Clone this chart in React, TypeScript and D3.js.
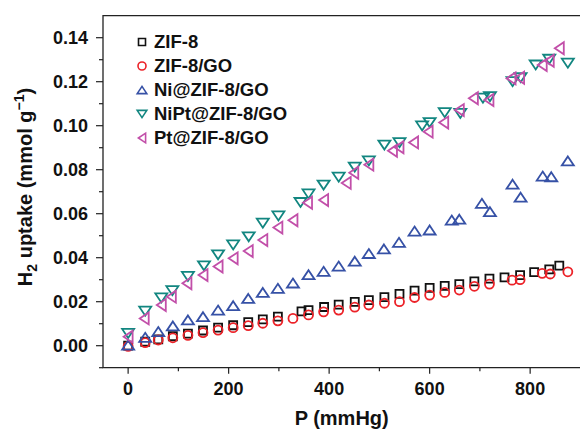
import React from "react";
import * as d3 from "d3";

const pZIF8 = [0, 34, 60, 89, 119, 149, 179, 209, 239, 268, 298, 345, 359, 390, 419, 451, 479, 510, 540, 570, 600, 630, 659, 689, 719, 749, 780, 808, 838, 858];
const vZIF8 = [0.0, 0.0018, 0.0029, 0.0043, 0.0055, 0.0069, 0.0082, 0.0093, 0.0107, 0.012, 0.0132, 0.0156, 0.0162, 0.0176, 0.0187, 0.0199, 0.0207, 0.0221, 0.0236, 0.025, 0.0263, 0.0272, 0.028, 0.0292, 0.0305, 0.0311, 0.0321, 0.0334, 0.0347, 0.0364];

const pZIF8GO = [0, 34, 60, 89, 119, 149, 179, 209, 239, 268, 298, 328, 359, 389, 419, 451, 479, 510, 540, 570, 600, 630, 659, 689, 719, 764, 780, 824, 840, 875];
const vZIF8GO = [-0.0003, 0.0014, 0.0026, 0.0036, 0.0047, 0.0059, 0.0071, 0.0082, 0.0091, 0.0102, 0.0113, 0.0124, 0.014, 0.0154, 0.0162, 0.0175, 0.0185, 0.0193, 0.02, 0.0219, 0.023, 0.0242, 0.0253, 0.027, 0.028, 0.0298, 0.03, 0.0329, 0.0326, 0.0336];

const pNi = [0, 34, 60, 89, 119, 149, 179, 209, 239, 268, 298, 328, 359, 389, 419, 451, 479, 509, 539, 570, 600, 644, 659, 704, 720, 765, 781, 825, 842, 875];
const vNi = [0.0003, 0.0038, 0.0064, 0.009, 0.0117, 0.0132, 0.0162, 0.0182, 0.0215, 0.0242, 0.0261, 0.0285, 0.0323, 0.0338, 0.0362, 0.0384, 0.0419, 0.044, 0.047, 0.0521, 0.0526, 0.0571, 0.0575, 0.0647, 0.0609, 0.0734, 0.0675, 0.0771, 0.0768, 0.084];

const pNiPt = [0, 34, 66, 88, 119, 151, 179, 209, 240, 268, 299, 343, 359, 389, 419, 451, 479, 510, 540, 585, 600, 630, 661, 706, 720, 765, 781, 811, 838, 875];
const vNiPt = [0.0056, 0.0157, 0.0217, 0.025, 0.0315, 0.0363, 0.0413, 0.0458, 0.0495, 0.0557, 0.059, 0.0651, 0.069, 0.073, 0.0766, 0.0812, 0.084, 0.0912, 0.0923, 0.0999, 0.1014, 0.1059, 0.1056, 0.1125, 0.1132, 0.12, 0.1218, 0.1276, 0.1302, 0.1284];

const pPt = [0, 32, 66, 86, 117, 149, 179, 209, 239, 268, 298, 328, 357, 389, 434, 449, 479, 526, 539, 568, 597, 628, 659, 687, 718, 762, 779, 824, 838, 858];
const vPt = [0.0041, 0.0124, 0.0185, 0.0223, 0.0284, 0.0321, 0.036, 0.0397, 0.043, 0.048, 0.0537, 0.057, 0.065, 0.0662, 0.074, 0.0786, 0.0823, 0.0886, 0.0902, 0.0924, 0.0973, 0.1014, 0.1071, 0.1125, 0.1117, 0.1215, 0.1218, 0.1276, 0.1295, 0.1352];

const seriesNames = ["ZIF-8", "ZIF-8/GO", "Ni@ZIF-8/GO", "NiPt@ZIF-8/GO", "Pt@ZIF-8/GO"];
const seriesColors = ["#111111", "#ec2228", "#3651a6", "#128680", "#c24fa9"];
const seriesShapes = ["square", "circle", "up", "down", "left"];

const xMajorTicks = [0, 200, 400, 600, 800];
const xMinorTicks = [100, 300, 500, 700];
const yMajorTicks = [0, 0.02, 0.04, 0.06, 0.08, 0.1, 0.12, 0.14];
const yMinorTicks = [-0.01, 0.01, 0.03, 0.05, 0.07, 0.09, 0.11, 0.13];

const W = 580;
const H = 433;
const L = 103;
const R = 580.4;
const T = 15.7;
const B = 367.7;
const FONT = "'Liberation Sans', Arial, Helvetica, sans-serif";

function markerPath(shape: string, s: number): string {
  const h = s / 2;
  if (shape === "square") {
    return `M${-h},${-h}H${h}V${h}H${-h}Z`;
  }
  if (shape === "up") {
    const w = s * 0.6, hh = s * 0.45;
    return `M0,${-hh}L${w},${hh}L${-w},${hh}Z`;
  }
  if (shape === "down") {
    const w = s * 0.6, hh = s * 0.45;
    return `M0,${hh}L${w},${-hh}L${-w},${-hh}Z`;
  }
  if (shape === "left") {
    const w = s * 0.45, hh = s * 0.6;
    return `M${-w},0L${w},${-hh}L${w},${hh}Z`;
  }
  return "";
}

function Marker({ shape, x, y, s, color, sw }: { shape: string; x: number; y: number; s: number; color: string; sw: number }) {
  if (shape === "circle") {
    return <circle cx={x} cy={y} r={s / 2} fill="none" stroke={color} strokeWidth={sw} />;
  }
  return (
    <path
      d={markerPath(shape, s)}
      transform={`translate(${x},${y})`}
      fill="none"
      stroke={color}
      strokeWidth={sw}
      strokeLinejoin="miter"
    />
  );
}

export default function App() {
  const x = d3.scaleLinear().domain([-50, 900]).range([L, R]);
  const y = d3.scaleLinear().domain([-0.01, 0.15]).range([B, T]);

  const allP = [pZIF8, pZIF8GO, pNi, pNiPt, pPt];
  const allV = [vZIF8, vZIF8GO, vNi, vNiPt, vPt];
  const sizes = [8, 9, 10, 10, 10];

  return (
    <svg width={W} height={H} style={{ position: "absolute", left: 0, top: 0, background: "#fff" }} fontFamily={FONT}>
      <rect x={0} y={0} width={W} height={H} fill="#fff" />
      {allP.map((ps, si) => (
        <g key={si}>
          {ps.map((p, i) => (
            <Marker key={i} shape={seriesShapes[si]} x={x(p)} y={y(allV[si][i])} s={sizes[si]} color={seriesColors[si]} sw={1.8} />
          ))}
        </g>
      ))}
      <path d={`M${R},${T}H${L}V${B}H${R}`} fill="none" stroke="#222" strokeWidth={1.3} />
      {xMajorTicks.map((t) => (
        <g key={"xm" + t}>
          <line x1={x(t)} x2={x(t)} y1={B} y2={B + 6} stroke="#222" strokeWidth={1.2} />
          <text x={x(t)} y={395} textAnchor="middle" fontSize={18} fontWeight="bold" fill="#111">
            {t}
          </text>
        </g>
      ))}
      {xMinorTicks.map((t) => (
        <line key={"xn" + t} x1={x(t)} x2={x(t)} y1={B} y2={B + 3.5} stroke="#222" strokeWidth={1.2} />
      ))}
      {yMajorTicks.map((t) => (
        <g key={"ym" + t}>
          <line x1={L - 7} x2={L} y1={y(t)} y2={y(t)} stroke="#222" strokeWidth={1.2} />
          <text x={88} y={y(t) + 6.3} textAnchor="end" fontSize={18} fontWeight="bold" fill="#111">
            {t.toFixed(2)}
          </text>
        </g>
      ))}
      {yMinorTicks.map((t) => (
        <line key={"yn" + t} x1={L - 4} x2={L} y1={y(t)} y2={y(t)} stroke="#222" strokeWidth={1.2} />
      ))}
      <text x={(L + R) / 2} y={425} textAnchor="middle" fontSize={20} fontWeight="bold" fill="#111">
        P (mmHg)
      </text>
      <text transform={`translate(32,187) rotate(-90)`} textAnchor="middle" fontSize={20} fontWeight="bold" fill="#111">
        H<tspan fontSize={14} dy={5}>2</tspan>
        <tspan dy={-5}> uptake (mmol g</tspan>
        <tspan fontSize={14} dy={-8}>−1</tspan>
        <tspan dy={8}>)</tspan>
      </text>
      {seriesNames.map((n, i) => {
        const cy = 42 + i * 24;
        return (
          <g key={"lg" + i}>
            <Marker shape={seriesShapes[i]} x={142} y={cy} s={i === 0 ? 7 : 8} color={seriesColors[i]} sw={1.6} />
            <text x={154} y={cy + 6.4} fontSize={18.5} fontWeight="bold" fill="#111">
              {n}
            </text>
          </g>
        );
      })}
    </svg>
  );
}
